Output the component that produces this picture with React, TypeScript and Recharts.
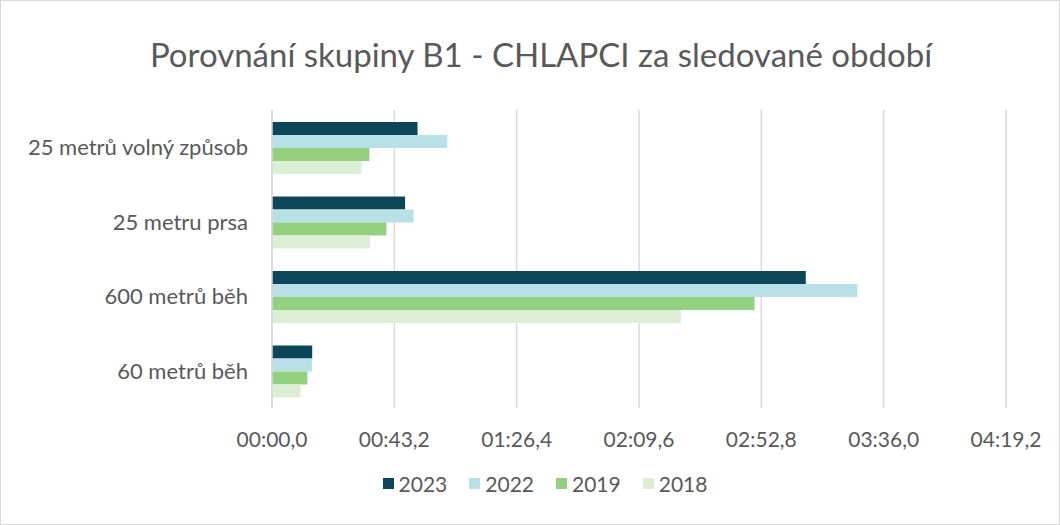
import { BarChart, Bar, XAxis, YAxis, CartesianGrid, Legend } from "recharts";

const categories = ["25 metrů volný způsob", "25 metru prsa", "600 metrů běh", "60 metrů běh"];
// times in seconds
const s2023 = [51.4, 47.0, 188.5, 14.2];
const s2022 = [61.9, 50.0, 206.7, 14.1];
const s2019 = [34.4, 40.4, 170.4, 12.5];
const s2018 = [31.6, 34.6, 144.4, 10.1];
const xTicks = [0, 43.2, 86.4, 129.6, 172.8, 216, 259.2];

const SERIES = [
  { key: "2023", color: "#0b4659" },
  { key: "2022", color: "#b8e0e7" },
  { key: "2019", color: "#93d17f" },
  { key: "2018", color: "#dcefd5" },
];

const FONT = "Lato, 'Open Sans', sans-serif";
const TEXT = "#595959";

const data = categories.map((name, i) => ({
  name,
  "2023": s2023[i],
  "2022": s2022[i],
  "2019": s2019[i],
  "2018": s2018[i],
}));

const pad = (n: number) => String(n).padStart(2, "0");

function fmtTime(v: number) {
  const total = Math.round(v * 10);
  const m = Math.floor(total / 600);
  const rest = total - m * 600;
  return `${pad(m)}:${pad(Math.floor(rest / 10))},${rest % 10}`;
}

function LegendContent() {
  return (
    <div style={{ display: "flex", justifyContent: "center", gap: 22, fontFamily: FONT }}>
      {SERIES.map((s) => (
        <div key={s.key} style={{ display: "flex", alignItems: "center", gap: 5 }}>
          <span style={{ width: 11, height: 11, background: s.color, display: "inline-block" }} />
          <span style={{ fontSize: 21, color: TEXT }}>{s.key}</span>
        </div>
      ))}
    </div>
  );
}

export default function App() {
  return (
    <div
      style={{
        position: "absolute",
        left: 0,
        top: 0,
        width: 1060,
        height: 525,
        background: "#fff",
        boxSizing: "border-box",
        border: "1px solid #d9d9d9",
        fontFamily: FONT,
      }}
    >
      <div
        style={{
          position: "absolute",
          top: 33,
          left: 0,
          width: 1080,
          textAlign: "center",
          fontSize: 33,
          color: TEXT,
        }}
      >
        Porovnání skupiny B1 - CHLAPCI za sledované období
      </div>
      <div style={{ position: "absolute", left: -1, top: -1 }}>
        <BarChart
          width={1060}
          height={525}
          data={data}
          layout="vertical"
          margin={{ top: 110, right: 54, bottom: 14, left: 0 }}
          barCategoryGap="16%"
          barGap={0}
        >
          <CartesianGrid horizontal={false} stroke="#d9d9d9" strokeWidth={1.5} />
          <XAxis
            type="number"
            domain={[0, 259.2]}
            ticks={xTicks}
            tickFormatter={fmtTime}
            axisLine={false}
            tickLine={false}
            tickSize={0}
            tickMargin={24}
            height={63}
            tick={{ fill: TEXT, fontSize: 21, fontFamily: FONT }}
            interval={0}
          />
          <YAxis
            type="category"
            dataKey="name"
            width={272}
            axisLine={{ stroke: "#d9d9d9", strokeWidth: 1.5 }}
            tickLine={false}
            tickSize={0}
            tickMargin={24}
            tick={{ fill: TEXT, fontSize: 22, fontFamily: FONT }}
          />
          {SERIES.map((s) => (
            <Bar key={s.key} dataKey={s.key} fill={s.color} isAnimationActive={false} />
          ))}
          <Legend
            verticalAlign="bottom"
            height={40}
            content={<LegendContent />}
            wrapperStyle={{ left: 30, width: 1030 }}
          />
        </BarChart>
      </div>
    </div>
  );
}
